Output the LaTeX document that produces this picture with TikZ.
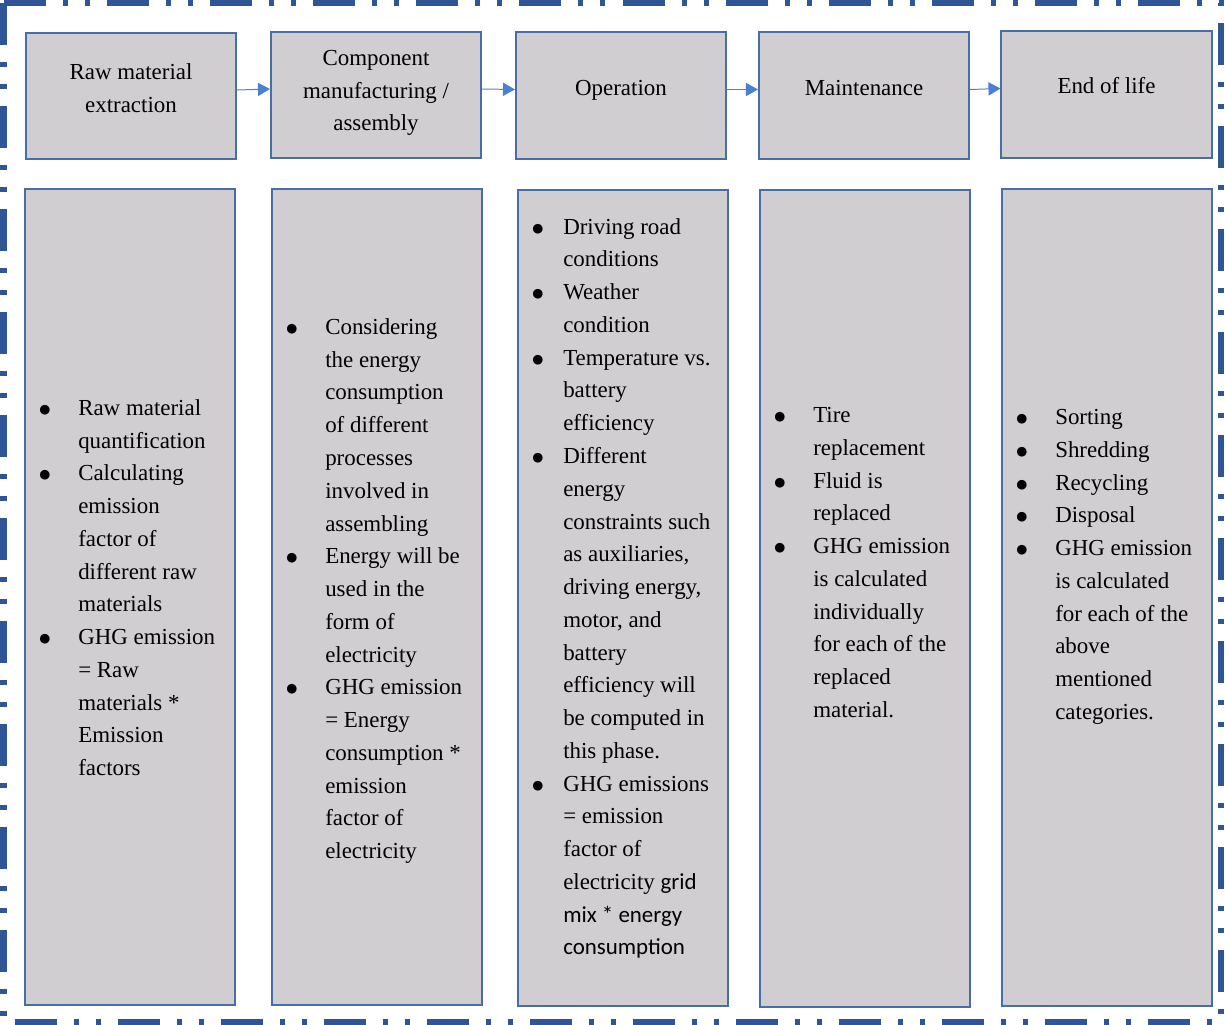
\documentclass[tikz,border=0pt]{standalone}
\usepackage{fontspec}
\setmainfont{Liberation Serif}
\newfontfamily\calibri{Carlito}
\newfontfamily\symfont{DejaVu Sans}
\usetikzlibrary{arrows.meta, positioning}
\definecolor{frameblue}{HTML}{2F5597}
\definecolor{boxblue}{HTML}{4A6CA8}
\definecolor{boxgray}{HTML}{D0CED0}
\definecolor{flowblue}{HTML}{4A7FD4}
\newcommand{\blt}{\raisebox{1.5pt}{\symfont\fontsize{9}{9}\selectfont ●}}

\begin{document}
\begin{tikzpicture}[
  x=0.025cm, y=-0.025cm,
  head/.style={
    rectangle, draw=boxblue, fill=boxgray, line width=0.05cm,
    minimum width=5.25cm, minimum height=3.15cm, inner sep=0pt,
  },
  title/.style={align=center},
  body/.style={
    rectangle, draw=boxblue, fill=boxgray, line width=0.05cm,
    minimum width=5.25cm, minimum height=20.4cm,
  },
  items/.style={inner sep=0pt, anchor=west},
  flow/.style={
    draw=flowblue, line width=0.7pt, -{Triangle[length=0.3cm, width=0.33cm]},
  },
  font=\fontsize{16.3}{23.3}\selectfont,
]
  \useasboundingbox (0,0) rectangle (1225,1025);

  % Outer frame
  \draw[frameblue, line width=0.15cm,
    dash pattern=on 1.05cm off 0.425cm on 0.125cm off 0.425cm on 0.125cm off 0.425cm]
    (3.5,3) rectangle (1221,1022);

  % Life cycle stages
  \node[head] (h1) at (131,96) {};
  \node[head] (h2) at (376,95) {};
  \node[head] (h3) at (621,95.5) {};
  \node[head] (h4) at (864,95.5) {};
  \node[head] (h5) at (1106.5,94.5) {};

  \node[title] (n1) at ([yshift=0.2cm]h1.center) {Raw material\\extraction};
  \node[title] (n2) at ([yshift=0.05cm]h2.center) {Component\\manufacturing /\\assembly};
  \node[title] (n3) at ([yshift=0.125cm]h3.center) {Operation};
  \node[title] (n4) at ([yshift=0.175cm]h4.center) {Maintenance};
  \node[title] (n5) at ([yshift=0.225cm]h5.center) {End of life};

  \draw[flow] ([yshift=0.15cm]h1.east) -- ([yshift=0.15cm]h2.west);
  \draw[flow] ([yshift=0.15cm]h2.east) -- ([yshift=0.15cm]h3.west);
  \draw[flow] ([yshift=0.15cm]h3.east) -- ([yshift=0.15cm]h4.west);
  \draw[flow] ([yshift=0.15cm]h4.east) -- ([yshift=0.15cm]h5.west);

  % Details of each stage
  \node[body] (b1) at (130,597) {};
  \node[body] (b2) at (377,597) {};
  \node[body] (b3) at (623,598) {};
  \node[body] (b4) at (865,598.5) {};
  \node[body] (b5) at (1107,597.5) {};

  \node[items, right=0.375cm of b1.west, yshift=0.2cm] (t1) {%
    \begin{tabular}{@{}p{0.975cm}@{}l@{}}
      \blt & Raw material\\
           & quantification\\
      \blt & Calculating\\
           & emission\\
           & factor of\\
           & different raw\\
           & materials\\
      \blt & GHG emission\\
           & = Raw\\
           & materials *\\
           & Emission\\
           & factors
    \end{tabular}};

  \node[items, right=0.375cm of b2.west, yshift=0.175cm] (t2) {%
    \begin{tabular}{@{}p{0.975cm}@{}l@{}}
      \blt & Considering\\
           & the energy\\
           & consumption\\
           & of different\\
           & processes\\
           & involved in\\
           & assembling\\
      \blt & Energy will be\\
           & used in the\\
           & form of\\
           & electricity\\
      \blt & GHG emission\\
           & = Energy\\
           & consumption *\\
           & emission\\
           & factor of\\
           & electricity
    \end{tabular}};

  \node[items, right=0.375cm of b3.west, yshift=0.25cm] (t3) {%
    \begin{tabular}{@{}p{0.775cm}@{}l@{}}
      \blt & Driving road\\
           & conditions\\
      \blt & Weather\\
           & condition\\
      \blt & Temperature vs.\\
           & battery\\
           & efficiency\\
      \blt & Different\\
           & energy\\
           & constraints such\\
           & as auxiliaries,\\
           & driving energy,\\
           & motor, and\\
           & battery\\
           & efficiency will\\
           & be computed in\\
           & this phase.\\
      \blt & GHG emissions\\
           & = emission\\
           & factor of\\
           & electricity {\calibri grid}\\
           & {\calibri mix * energy}\\
           & {\calibri consumption}
    \end{tabular}};

  \node[items, right=0.375cm of b4.west, yshift=0.875cm] (t4) {%
    \begin{tabular}{@{}p{0.975cm}@{}l@{}}
      \blt & Tire\\
           & replacement\\
      \blt & Fluid is\\
           & replaced\\
      \blt & GHG emission\\
           & is calculated\\
           & individually\\
           & for each of the\\
           & replaced\\
           & material.
    \end{tabular}};

  \node[items, right=0.375cm of b5.west, yshift=0.8cm] (t5) {%
    \begin{tabular}{@{}p{0.975cm}@{}l@{}}
      \blt & Sorting\\
      \blt & Shredding\\
      \blt & Recycling\\
      \blt & Disposal\\
      \blt & GHG emission\\
           & is calculated\\
           & for each of the\\
           & above\\
           & mentioned\\
           & categories.
    \end{tabular}};

\end{tikzpicture}
\end{document}
